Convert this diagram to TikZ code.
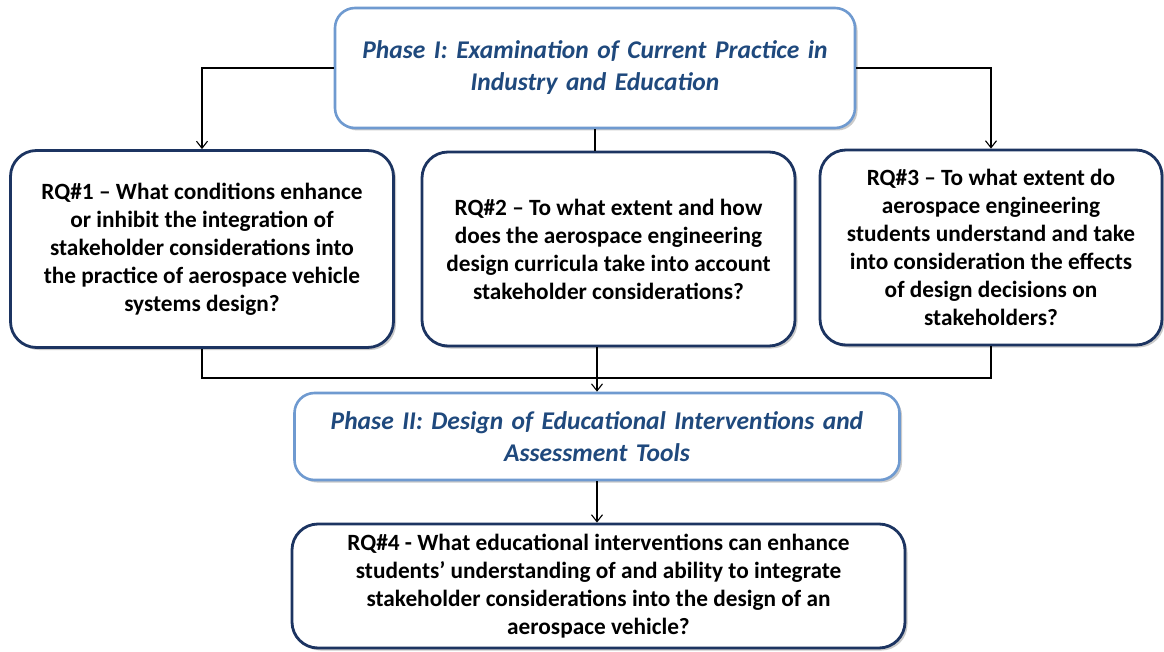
\documentclass[tikz,border=0pt]{standalone}
\usepackage{fontspec}
\setmainfont{Carlito}
\usetikzlibrary{arrows.meta,shadows}
\definecolor{phasetext}{HTML}{1F497D}
\definecolor{phaseborder}{HTML}{6F9AD0}
\definecolor{rqborder}{HTML}{1C3461}
\newcommand\myphasefont{\fontsize{25.5}{32}\selectfont\bfseries\itshape\spaceskip=8.5pt\relax}
\begin{document}
\begin{tikzpicture}[x=1pt,y=-1pt,
  boxbase/.style={rectangle, rounded corners=20pt, fill=white, align=center, inner sep=0pt,
    drop shadow={shadow xshift=2.5pt, shadow yshift=-2.5pt, opacity=0.35, fill=black!60}},
  phasebox/.style={boxbase, draw=phaseborder, line width=2.6pt, text=phasetext,
    font=\myphasefont},
  rqbox/.style={boxbase, draw=rqborder, line width=2.8pt, rounded corners=26pt, text=black,
    font=\fontsize{23.3}{28}\selectfont\bfseries},
  conn/.style={line width=1.1pt, black},
  arr/.style={conn, -{Straight Barb[length=7pt,width=11pt,line width=1.1pt]}}]
\useasboundingbox (0,0) rectangle (1164,652);

\node[phasebox, minimum width=520pt, minimum height=120pt] (p1) at (595,68)
  {Phase I: Examination of Current Practice in\\Industry and Education};

\node[rqbox, minimum width=383pt, minimum height=197pt] (rq1) at (202,249)
  {RQ\#1 – What conditions enhance\\or inhibit the integration of\\stakeholder considerations into\\the practice of aerospace vehicle\\systems design?};

\node[rqbox, minimum width=373pt, minimum height=194pt] (rq2) at (608.5,249)
  {RQ\#2 – To what extent and how\\does the aerospace engineering\\design curricula take into account\\stakeholder considerations?};

\node[rqbox, minimum width=342pt, minimum height=195pt] (rq3) at (991,247.5)
  {RQ\#3 – To what extent do\\aerospace engineering\\students understand and take\\into consideration the effects\\of design decisions on\\stakeholders?};

\node[phasebox, minimum width=605pt, minimum height=87pt] (p2) at (597,436.5)
  {Phase II: Design of Educational Interventions and\\Assessment Tools};

\node[rqbox, minimum width=613pt, minimum height=124pt] (rq4) at (598.5,586)
  {RQ\#4 - What educational interventions can enhance\\students’ understanding of and ability to integrate\\stakeholder considerations into the design of an\\aerospace vehicle?};

\coordinate (j1) at (202,378);
\coordinate (j3) at (991,378);

\draw[arr] (p1.west) -| (rq1.north);
\draw[arr] (p1.east) -| (rq3.north);
\draw[conn] (p1.south) -- (p1.south |- rq2.north);
\draw[conn] (rq1.south) -- (j1) -- (j3) -- (rq3.south);
\draw[arr] (p2.north |- rq2.south) -- (p2.north);
\draw[arr] (p2.south) -- (p2.south |- rq4.north);
\end{tikzpicture}
\end{document}
